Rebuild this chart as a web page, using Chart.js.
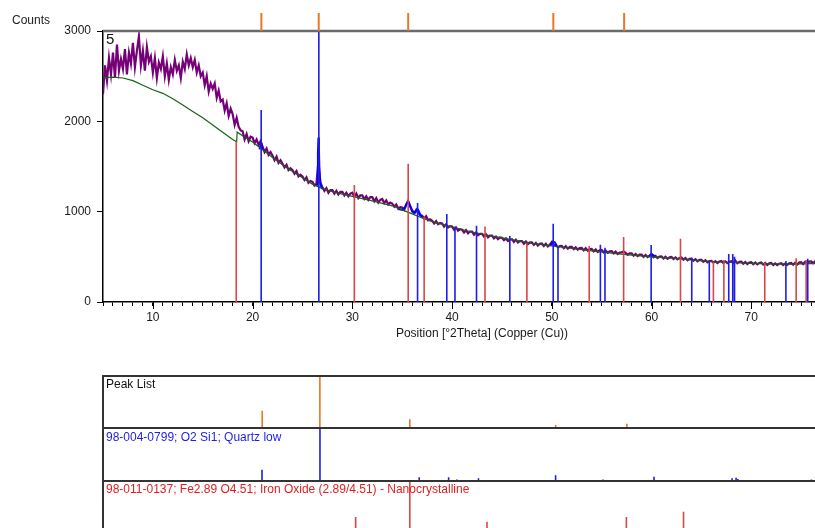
<!DOCTYPE html>
<html>
<head>
<meta charset="utf-8">
<script src="https://cdn.jsdelivr.net/npm/chart.js@4.4.1/dist/chart.umd.min.js"></script>
<style>
  html, body { margin: 0; padding: 0; background: #fff; }
  body { width: 815px; height: 528px; overflow: hidden; position: relative; font-family: "Liberation Sans", Arial, sans-serif; }
  canvas { position: absolute; }
  .lbl { position: absolute; font-size: 12px; white-space: nowrap; line-height: 14px; }
  .rule { position: absolute; background: #333; }
</style>
</head>
<body>
<canvas id="main" width="865" height="345" style="left:0;top:0"></canvas>
<canvas id="p1" width="762" height="52" style="left:103px;top:376px"></canvas>
<canvas id="p2" width="762" height="53" style="left:103px;top:428px"></canvas>
<canvas id="p3" width="762" height="53" style="left:103px;top:481px"></canvas>

<div class="rule" style="left:102px;top:375px;width:713px;height:2px"></div>
<div class="rule" style="left:102px;top:427px;width:713px;height:2px"></div>
<div class="rule" style="left:102px;top:480px;width:713px;height:2px"></div>
<div class="rule" style="left:102px;top:375px;width:2px;height:160px"></div>

<div class="lbl" style="left:12px;top:13px;color:#222">Counts</div>
<div class="lbl" style="left:106px;top:31px;font-size:15px;line-height:16px;color:#111">5</div>
<div class="lbl" style="left:106px;top:377px;color:#111">Peak List</div>
<div class="lbl" style="left:106px;top:430px;color:#1e1ee6">98-004-0799; O2 Si1; Quartz low</div>
<div class="lbl" style="left:106px;top:482px;color:#e32020">98-011-0137; Fe2.89 O4.51; Iron Oxide (2.89/4.51) - Nanocrystalline</div>

<script>
// scan: start 5 deg, step 0.2 deg
var scanStart = 5
var scanStep = 0.2
var counts = [
  2300, 2620, 2450, 2700, 2520, // 5
  2760, 2480, 2850, 2560, 2690, // 6
  2580, 2800, 2520, 2760, 2640, // 7
  2870, 2600, 2780, 2940, 2620, // 8
  2780, 2560, 2820, 2660, 2720, // 9
  2540, 2700, 2480, 2650, 2580, // 10
  2720, 2500, 2640, 2460, 2600, // 11
  2520, 2680, 2560, 2620, 2480, // 12
  2660, 2580, 2740, 2620, 2700, // 13
  2600, 2680, 2540, 2620, 2500, // 14
  2540, 2400, 2500, 2330, 2420, // 15
  2360, 2420, 2260, 2340, 2220, // 16
  2240, 2120, 2200, 2060, 2140, // 17
  2080, 1960, 2040, 1940, 1900, // 18
  1890, 1800, 1860, 1780, 1830, // 19
  1820, 1760, 1800, 1740, 1780, // 20
  1720, 1660, 1700, 1630, 1660, // 21
  1620, 1570, 1610, 1540, 1570, // 22
  1530, 1490, 1520, 1460, 1480, // 23
  1460, 1420, 1450, 1390, 1410, // 24
  1390, 1350, 1380, 1320, 1340, // 25
  1330, 1290, 1310, 1560, 1320, // 26
  1270, 1230, 1260, 1210, 1240, // 27
  1240, 1200, 1230, 1190, 1220, // 28
  1220, 1180, 1210, 1170, 1200, // 29
  1210, 1165, 1200, 1150, 1180, // 30
  1180, 1140, 1170, 1130, 1160, // 31
  1160, 1115, 1150, 1100, 1130, // 32
  1140, 1095, 1125, 1080, 1100, // 33
  1090, 1055, 1080, 1035, 1050, // 34
  1045, 1020, 1080, 1120, 1060, // 35
  1015, 985, 1020, 990, 960,    // 36
  955, 925, 950, 905, 915,      // 37
  900, 870, 895, 860, 875,      // 38
  870, 835, 860, 825, 840,      // 39
  835, 800, 825, 790, 805,      // 40
  800, 770, 795, 760, 780,      // 41
  780, 745, 770, 740, 755,      // 42
  755, 725, 750, 715, 735,      // 43
  735, 705, 725, 695, 715,      // 44
  710, 685, 705, 675, 690,      // 45
  695, 665, 690, 660, 675,      // 46
  675, 645, 670, 640, 660,      // 47
  660, 632, 655, 625, 645,      // 48
  648, 620, 645, 615, 635,      // 49
  665, 625, 632, 605, 620,      // 50
  622, 596, 618, 590, 610,      // 51
  610, 585, 605, 580, 598,      // 52
  600, 572, 595, 568, 585,      // 53
  588, 560, 582, 555, 572,      // 54
  576, 550, 570, 545, 560,      // 55
  562, 538, 558, 532, 548,      // 56
  550, 560, 545, 522, 538,      // 57
  538, 512, 532, 508, 525,      // 58
  525, 500, 520, 498, 512,      // 59
  530, 495, 510, 486, 502,      // 60
  505, 482, 500, 478, 494,      // 61
  498, 476, 494, 472, 488,      // 62
  492, 468, 486, 462, 478,      // 63
  480, 456, 474, 450, 466,      // 64
  466, 444, 462, 440, 454,      // 65
  456, 436, 452, 432, 448,      // 66
  454, 432, 450, 430, 446,      // 67
  452, 430, 458, 428, 444,      // 68
  446, 424, 442, 420, 436,      // 69
  440, 418, 438, 416, 432,      // 70
  438, 414, 432, 410, 428,      // 71
  432, 410, 428, 408, 424,      // 72
  430, 408, 426, 410, 428,      // 73
  432, 412, 434, 414, 436,      // 74
  440, 420, 446, 426, 448,      // 75
  450, 430, 452, 436, 448,      // 76
  440
]

// background
var bgX = [5, 6, 7, 8, 9, 10, 11, 12, 13, 14, 15, 16, 17, 18, 18.4, 18.45, 19, 20, 21, 22, 23, 24, 25, 26, 27, 28, 29, 30, 32, 34, 35, 36, 37, 38, 40, 42, 44, 46, 48, 50, 52, 54, 56, 58, 60, 62, 64, 66, 68, 70, 72, 74, 76, 77]
var bgY = [2480, 2490, 2480, 2450, 2400, 2350, 2310, 2250, 2180, 2110, 2040, 1960, 1880, 1800, 1775, 1880, 1840, 1770, 1685, 1600, 1520, 1445, 1375, 1305, 1255, 1220, 1195, 1170, 1120, 1065, 1020, 975, 930, 890, 830, 775, 730, 690, 650, 620, 592, 565, 540, 518, 500, 485, 465, 448, 437, 428, 422, 420, 425, 428]

// calculated profile near the peaks (null = gap)
var calcX = [20.7, 20.85, 21.0, null, 26.3, 26.5, 26.55, 26.6, 26.65, 26.7, 26.8, 27.0, null, 34.6, 35.0, 35.3, 35.5, 35.6, 35.8, 36.0, 36.3, 36.5, 36.6, 36.8, 37.0, null, 49.8, 50.0, 50.1, 50.3, 50.5, null, 59.8, 59.95, 60.2, 60.4]
var calcY = [1690, 1770, 1690, null, 1290, 1300, 1650, 1820, 1700, 1450, 1300, 1250, null, 1030, 1020, 1050, 1100, 1110, 1060, 1000, 990, 1030, 1020, 970, 940, null, 628, 640, 668, 660, 620, null, 505, 530, 515, 500]

// peak list
var peakPos = [20.88, 26.63, 35.6, 50.15, 57.25]
var peakRel = [0.33, 1.0, 0.17, 0.06, 0.08]

// 98-004-0799 quartz low
var quartzPos = [20.86, 26.64, 36.54, 39.47, 40.29, 42.45, 45.79, 50.14, 50.62, 54.87, 55.33, 59.96, 64.03, 65.79, 67.74, 68.14, 68.32, 73.47, 75.66]
var quartzTop = [2125, 3000, 1095, 975, 835, 845, 730, 865, 610, 635, 600, 630, 490, 455, 530, 530, 500, 455, 480]
var quartzRel = [0.21, 1.0, 0.07, 0.07, 0.03, 0.05, 0.02, 0.11, 0.01, 0.03, 0.01, 0.08, 0.01, 0.02, 0.05, 0.06, 0.04, 0.02, 0.03]

// 98-011-0137 iron oxide
var ironPos = [18.36, 30.2, 35.6, 37.2, 43.3, 47.5, 53.75, 57.2, 62.9, 66.2, 67.25, 71.35, 74.5, 75.5]
var ironTop = [1780, 1295, 1530, 940, 835, 650, 620, 720, 700, 445, 465, 435, 485, 465]
var ironRel = [0.05, 0.32, 1.0, 0.08, 0.23, 0.1, 0.1, 0.32, 0.42, 0.02, 0.06, 0.04, 0.1, 0.05]

var xMin = 5, xMax = 81

var BLUE = 'rgb(30,30,230)'
var RED = 'rgb(218,70,70)'
var ORANGE = 'rgb(236,118,36)'

Chart.defaults.font.family = '"Liberation Sans", Arial, sans-serif'
Chart.defaults.font.size = 12
Chart.defaults.color = '#1a1a1a'

function sticks(pos, h) {
  var pts = []
  pos.forEach(function (p, i) {
    pts.push({ x: p, y: 0 }, { x: p, y: h[i] }, { x: p, y: null })
  })
  return pts
}

// higher order = drawn further back
function lineSet(data, color, width, order) {
  return {
    data: data, borderColor: color, borderWidth: width, order: order || 0,
    pointRadius: 0, tension: 0, spanGaps: false, fill: false
  }
}

var measured = counts.map(function (c, i) { return { x: scanStart + scanStep * i, y: c } })
var background = bgX.map(function (x, i) { return { x: x, y: bgY[i] } })
var calc = calcX.map(function (x, i) { return x === null ? { x: 0, y: null } : { x: x, y: calcY[i] } })

var extras = {
  id: 'extras',
  afterDraw: function (chart) {
    var ctx = chart.ctx, a = chart.chartArea, x = chart.scales.x
    ctx.save()
    // frame line at top
    ctx.strokeStyle = '#6a6a6a'
    ctx.lineWidth = 2.5
    ctx.beginPath(); ctx.moveTo(a.left, a.top); ctx.lineTo(a.right, a.top); ctx.stroke()
    // peak markers above the plot
    ctx.strokeStyle = ORANGE
    ctx.lineWidth = 2
    peakPos.forEach(function (p) {
      var px = x.getPixelForValue(p)
      ctx.beginPath(); ctx.moveTo(px, a.top - 18); ctx.lineTo(px, a.top); ctx.stroke()
    })
    // longer major ticks
    ctx.strokeStyle = '#000'
    ctx.lineWidth = 1
    for (var v = 10; v <= 80; v += 10) {
      var px = Math.round(x.getPixelForValue(v)) + 0.5
      ctx.beginPath(); ctx.moveTo(px, a.bottom); ctx.lineTo(px, a.bottom + 7); ctx.stroke()
    }
    ctx.restore()
  }
}

new Chart(document.getElementById('main'), {
  type: 'line',
  data: {
    datasets: [
      lineSet(measured, 'rgb(118,0,120)', 2.2, 5),
      lineSet(calc, 'rgb(0,0,255)', 2, 4),
      lineSet(background, 'rgb(20,100,20)', 1.2, 3),
      lineSet(sticks(quartzPos, quartzTop), BLUE, 1.6, 1),
      lineSet(sticks(ironPos, ironTop), RED, 1.6, 2)
    ]
  },
  options: {
    responsive: false,
    animation: false,
    layout: { padding: { top: 31, left: 0, right: 0, bottom: 0 } },
    plugins: { legend: { display: false }, tooltip: { enabled: false } },
    scales: {
      x: {
        type: 'linear', min: xMin, max: xMax, offset: false,
        afterFit: function (s) { s.height = 43 },
        border: { color: '#000', width: 1.5 },
        grid: { drawOnChartArea: false, tickLength: 4, color: '#000' },
        ticks: {
          stepSize: 1, includeBounds: false, autoSkip: false, maxRotation: 0, padding: 4,
          color: '#1a1a1a',
          callback: function (v) { return v % 10 === 0 ? String(v) : '' }
        },
        title: { display: true, text: 'Position [°2Theta] (Copper (Cu))', color: '#1a1a1a', padding: { top: 0, bottom: 4 } }
      },
      y: {
        min: 0, max: 3000,
        afterFit: function (s) { s.width = 103 },
        border: { color: '#000', width: 1.5 },
        grid: { drawOnChartArea: false, tickLength: 6, color: '#000' },
        ticks: { stepSize: 1000, padding: 6, color: '#1a1a1a', callback: function (v) { return String(v) } }
      }
    }
  },
  plugins: [extras]
})

function panel(id, pos, rel, color) {
  new Chart(document.getElementById(id), {
    type: 'line',
    data: { datasets: [lineSet(sticks(pos, rel), color, 1.6)] },
    options: {
      responsive: false,
      animation: false,
      layout: { padding: 0 },
      plugins: { legend: { display: false }, tooltip: { enabled: false } },
      scales: {
        x: { type: 'linear', min: xMin, max: xMax, display: false },
        y: { min: 0, max: 1, display: false }
      }
    }
  })
}

panel('p1', peakPos, peakRel, ORANGE)
panel('p2', quartzPos, quartzRel, BLUE)
panel('p3', ironPos, ironRel, RED)
</script>
</body>
</html>
